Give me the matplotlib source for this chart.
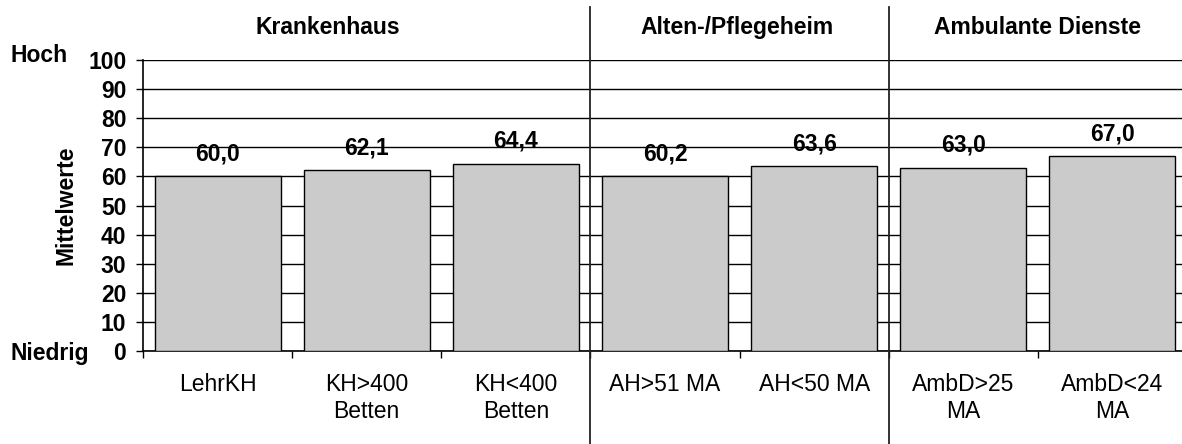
import numpy as np
import matplotlib
matplotlib.use("Agg")
import matplotlib.pyplot as plt

plt.rcParams['font.family'] = ['Liberation Sans', 'DejaVu Sans']

categories = ['LehrKH', 'KH>400\nBetten', 'KH<400\nBetten', 'AH>51 MA',
              'AH<50 MA', 'AmbD>25\nMA', 'AmbD<24\nMA']
values = [60.0, 62.1, 64.4, 60.2, 63.6, 63.0, 67.0]
groups = ['Krankenhaus', 'Alten-/Pflegeheim', 'Ambulante Dienste']
group_x = [0.74, 3.48, 5.5]       # header centres (data x)
separators = [2.5, 4.5]
yticks = np.arange(0, 101, 10)

FS = 16.5
W, H = 1182, 444
fig = plt.figure(figsize=(W / 100, H / 100), dpi=100)
ax = fig.add_axes([143 / W, (H - 351) / H, 1044 / W, 291 / H])

x = np.arange(len(values))
ax.bar(x, values, width=0.845, color='#cbcbcb', edgecolor='black',
       linewidth=1.0, zorder=3)

for xi, v in zip(x, values):
    ax.text(xi, v + 5.4, f"{v:.1f}".replace('.', ','), ha='center',
            va='baseline', fontsize=FS, fontweight='bold', zorder=4)

ax.set_xlim(-0.5, len(values) - 0.5)
ax.set_ylim(0, 100)
ax.set_yticks(yticks)
ax.set_yticklabels([str(t) for t in yticks], fontsize=FS, fontweight='bold')
ax.tick_params(axis='y', direction='out', length=5, width=1.0, pad=7)
ax.yaxis.grid(True, color='black', linewidth=1.0, zorder=0)
ax.set_axisbelow(True)

ax.set_xticks(np.arange(-0.5, len(values), 1.0))
ax.set_xticklabels([])
ax.tick_params(axis='x', which='major', direction='out', length=5, width=1.0)
ax.set_xticks(x, minor=True)
ax.set_xticklabels(categories, minor=True, fontsize=FS, linespacing=1.2)
ax.tick_params(axis='x', which='minor', length=0, pad=16)

for s in ['top', 'right']:
    ax.spines[s].set_visible(False)
for s in ['left', 'bottom']:
    ax.spines[s].set_linewidth(1.2)

ax.set_ylabel('Mittelwerte', fontsize=FS, fontweight='bold')
ax.yaxis.set_label_coords(-0.063, 0.5)

for sx in separators:
    ax.axvline(sx, ymin=-0.32, ymax=1.182, color='#222222', linewidth=1.3,
               clip_on=False, zorder=5)

for gx, g in zip(group_x, groups):
    ax.text(gx, 1.11, g, transform=ax.get_xaxis_transform(), ha='center',
            va='center', fontsize=FS, fontweight='bold')

fig.text(10 / W, 1 - 56 / H, 'Hoch', ha='left', va='center', fontsize=FS,
         fontweight='bold')
fig.text(10 / W, 1 - 353 / H, 'Niedrig', ha='left', va='center',
         fontsize=FS, fontweight='bold')

fig.savefig('out.png', dpi=100)
